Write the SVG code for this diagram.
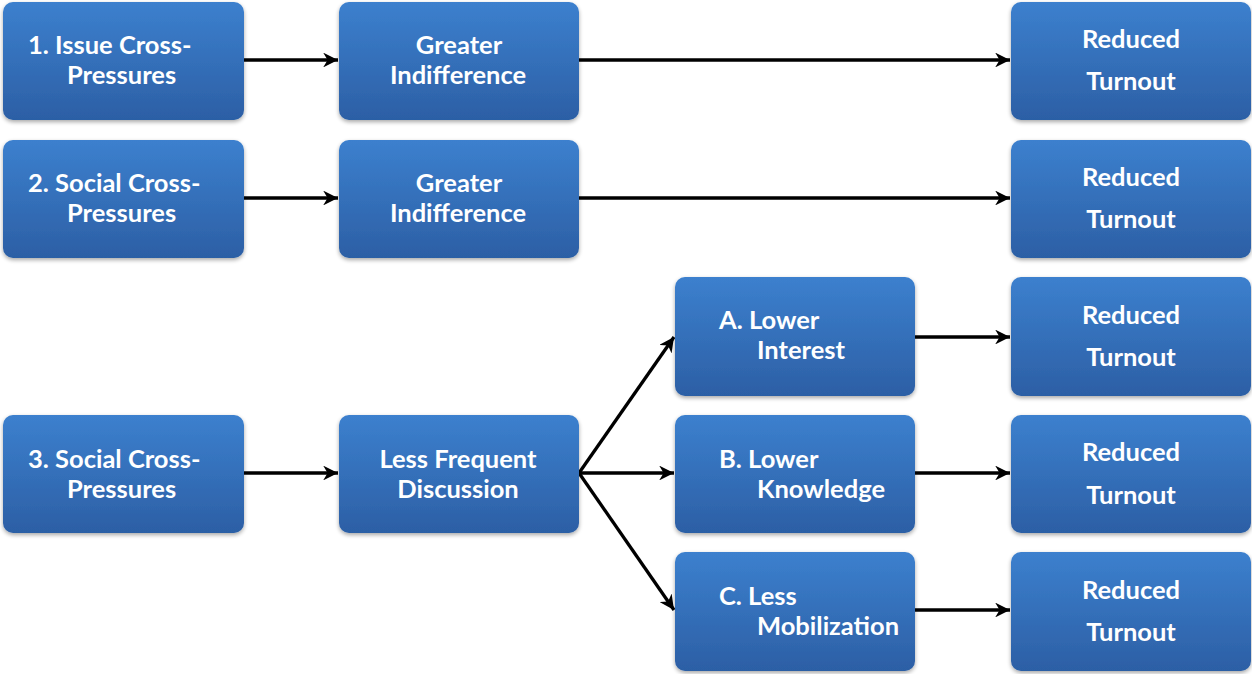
<svg xmlns="http://www.w3.org/2000/svg" width="1252" height="674" viewBox="0 0 1252 674">
<defs>
<linearGradient id="g" x1="0" y1="0" x2="0" y2="1">
<stop offset="0" stop-color="#3C80CE"/>
<stop offset="1" stop-color="#2C5FA5"/>
</linearGradient>
<filter id="sh" x="-10%" y="-10%" width="120%" height="125%">
<feGaussianBlur in="SourceAlpha" stdDeviation="2"/>
<feOffset dx="0" dy="2" result="b"/>
<feComponentTransfer><feFuncA type="linear" slope="0.35"/></feComponentTransfer>
<feMerge><feMergeNode/><feMergeNode in="SourceGraphic"/></feMerge>
</filter>
<marker id="ah" viewBox="0 0 10 10" refX="10" refY="5" markerWidth="4.5" markerHeight="4.5" orient="auto" markerUnits="strokeWidth">
<path d="M0,0 L10,5 L0,10 L3,5 z" fill="#000"/>
</marker>
</defs>
<style>
.box{fill:url(#g);filter:url(#sh)}
text{font-family:Lato,"Open Sans","Liberation Sans",sans-serif;font-weight:bold;font-size:25.5px;fill:#fff}
.m{text-anchor:middle}
.c line{stroke:#000;stroke-width:3.3;marker-end:url(#ah)}
</style>
<rect width="1252" height="674" fill="#fff"/>
<g class="c" id="connectors">
<line x1="244" y1="60" x2="338" y2="60"/>
<line x1="579" y1="60" x2="1010" y2="60"/>
<line x1="244" y1="198" x2="338" y2="198"/>
<line x1="579" y1="198" x2="1010" y2="198"/>
<line x1="244" y1="473" x2="338" y2="473"/>
<line x1="579" y1="473" x2="674" y2="337"/>
<line x1="579" y1="473" x2="674" y2="473"/>
<line x1="579" y1="473" x2="674" y2="610"/>
<line x1="915" y1="337" x2="1010" y2="337"/>
<line x1="915" y1="473" x2="1010" y2="473"/>
<line x1="915" y1="610" x2="1010" y2="610"/>
</g>
<g id="n1"><rect class="box" x="3" y="2" width="241" height="118" rx="10"/><text x="28" y="54">1. Issue Cross-</text><text x="67" y="84">Pressures</text></g>
<g id="n2"><rect class="box" x="339" y="2" width="240" height="118" rx="10"/><text class="m" x="459" y="54">Greater</text><text class="m" x="458" y="84">Indifference</text></g>
<g id="n3"><rect class="box" x="1011" y="2" width="240" height="118" rx="10"/><text class="m" x="1131" y="48">Reduced</text><text class="m" x="1131" y="90">Turnout</text></g>
<g id="n4"><rect class="box" x="3" y="140" width="241" height="118" rx="10"/><text x="28" y="192">2. Social Cross-</text><text x="67" y="222">Pressures</text></g>
<g id="n5"><rect class="box" x="339" y="140" width="240" height="118" rx="10"/><text class="m" x="459" y="192">Greater</text><text class="m" x="458" y="222">Indifference</text></g>
<g id="n6"><rect class="box" x="1011" y="140" width="240" height="118" rx="10"/><text class="m" x="1131" y="186">Reduced</text><text class="m" x="1131" y="228">Turnout</text></g>
<g id="n7"><rect class="box" x="675" y="277" width="240" height="119" rx="10"/><text x="719" y="329">A. Lower</text><text x="757" y="359">Interest</text></g>
<g id="n8"><rect class="box" x="1011" y="277" width="240" height="119" rx="10"/><text class="m" x="1131" y="324">Reduced</text><text class="m" x="1131" y="366">Turnout</text></g>
<g id="n9"><rect class="box" x="3" y="415" width="241" height="118" rx="10"/><text x="28" y="468">3. Social Cross-</text><text x="67" y="498">Pressures</text></g>
<g id="n10"><rect class="box" x="339" y="415" width="240" height="118" rx="10"/><text class="m" x="458" y="468">Less Frequent</text><text class="m" x="458" y="498">Discussion</text></g>
<g id="n11"><rect class="box" x="675" y="415" width="240" height="118" rx="10"/><text x="719" y="468">B. Lower</text><text x="757" y="498">Knowledge</text></g>
<g id="n12"><rect class="box" x="1011" y="415" width="240" height="118" rx="10"/><text class="m" x="1131" y="461">Reduced</text><text class="m" x="1131" y="504">Turnout</text></g>
<g id="n13"><rect class="box" x="675" y="552" width="240" height="119" rx="10"/><text x="719" y="605">C. Less</text><text x="757" y="635">Mobilization</text></g>
<g id="n14"><rect class="box" x="1011" y="552" width="240" height="119" rx="10"/><text class="m" x="1131" y="599">Reduced</text><text class="m" x="1131" y="641">Turnout</text></g>
</svg>
